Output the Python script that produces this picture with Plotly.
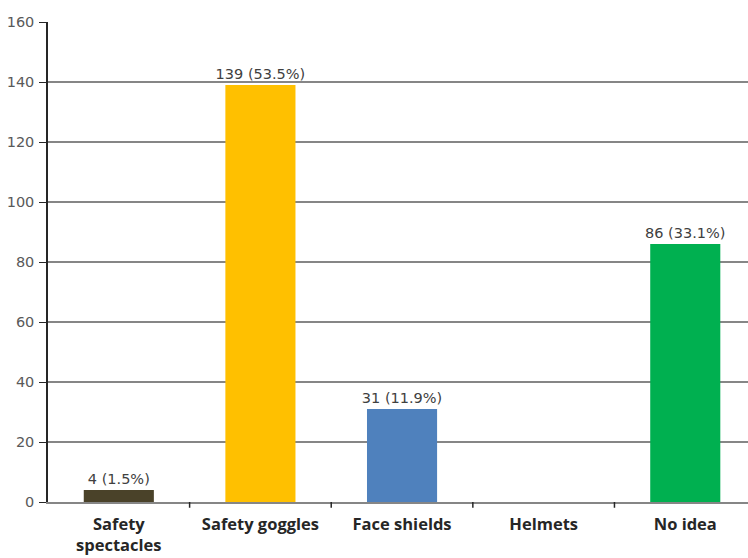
import plotly.graph_objects as go

categories = ["Safety<br>spectacles", "Safety goggles", "Face shields", "Helmets", "No idea"]
counts = [4, 139, 31, 0, 86]
percents = [1.5, 53.5, 11.9, 0.0, 33.1]
colors = ["#4A4229", "#FFC000", "#4F81BD", "#FFFFFF", "#00B050"]
y_ticks = [0, 20, 40, 60, 80, 100, 120, 140, 160]

labels = [f"{c} ({p}%)" if c > 0 else "" for c, p in zip(counts, percents)]

fig = go.Figure(
    go.Bar(
        x=list(range(len(categories))),
        y=counts,
        marker=dict(color=colors, line=dict(width=0)),
        text=labels,
        textposition="outside",
        constraintext="none",
        cliponaxis=False,
        textfont=dict(family="DejaVu Sans", size=14.5, color="#404040"),
        width=0.495,
    )
)

fig.update_layout(
    width=748,
    height=558,
    margin=dict(l=48, r=0, t=22, b=56),
    plot_bgcolor="white",
    paper_bgcolor="white",
    showlegend=False,
)

fig.update_xaxes(
    range=[-0.5, 4.443],
    tickmode="array",
    tickvals=list(range(len(categories))),
    ticktext=[f"<b>{c}</b>" for c in categories],
    tickfont=dict(family="Open Sans", size=16.5, color="#262626"),
    ticklabelstandoff=6,
    showgrid=False,
    showline=True,
    linecolor="#868686",
    linewidth=1.5,
    zeroline=False,
    ticks="",
)

fig.update_yaxes(
    range=[0, 160],
    tickvals=y_ticks,
    tickfont=dict(family="DejaVu Sans", size=14.5, color="#595959"),
    showgrid=True,
    gridcolor="#868686",
    gridwidth=1.5,
    showline=True,
    linecolor="#262626",
    linewidth=1.5,
    ticks="outside",
    ticklen=7,
    tickcolor="#262626",
    ticklabelstandoff=2,
    zeroline=False,
)

# boundary tick marks on x axis
for b in [0.5, 1.5, 2.5, 3.5]:
    fig.add_shape(type="line", xref="x", yref="paper", x0=b, x1=b, y0=0, y1=-0.012,
                  line=dict(color="#262626", width=1.5))

fig.write_html("out.html")
